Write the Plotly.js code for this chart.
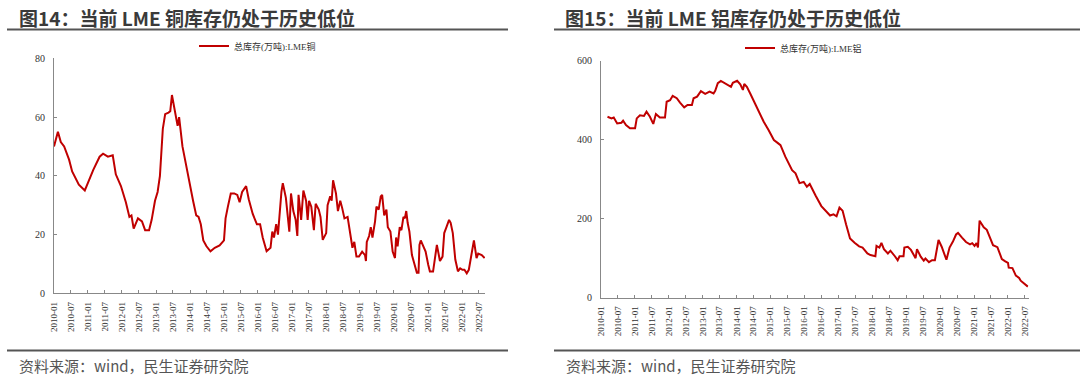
<!DOCTYPE html>
<html>
<head>
<meta charset="utf-8">
<script src="https://cdn.plot.ly/plotly-3.0.1.min.js"></script>
<style>html,body{margin:0;padding:0;background:#fff;}#chart{width:1080px;height:378px;}</style>
</head>
<body>
<div id="chart"></div>
<script>
// ---- Data ----
const tickLabels = ["2010-01","2010-07","2011-01","2011-07","2012-01","2012-07","2013-01","2013-07","2014-01","2014-07","2015-01","2015-07","2016-01","2016-07","2017-01","2017-07","2018-01","2018-07","2019-01","2019-07","2020-01","2020-07","2021-01","2021-07","2022-01","2022-07"];

const cuDates = ["2010-01-01","2010-02-12","2010-03-15","2010-04-20","2010-06-12","2010-07-15","2010-09-25","2010-11-28","2011-01-06","2011-02-27","2011-05-06","2011-06-12","2011-08-03","2011-09-24","2011-10-27","2011-12-21","2012-02-12","2012-03-21","2012-04-12","2012-05-06","2012-06-21","2012-08-03","2012-09-06","2012-10-18","2012-11-15","2012-12-21","2013-01-18","2013-02-12","2013-03-15","2013-04-09","2013-05-15","2013-06-03","2013-06-21","2013-07-21","2013-08-21","2013-09-06","2013-10-12","2013-11-15","2013-12-21","2014-02-03","2014-03-09","2014-04-03","2014-04-27","2014-05-24","2014-06-27","2014-08-09","2014-09-24","2014-11-15","2015-01-01","2015-01-18","2015-02-12","2015-03-15","2015-04-21","2015-05-24","2015-06-18","2015-07-15","2015-08-27","2015-09-24","2015-11-06","2015-12-21","2016-01-24","2016-02-21","2016-04-03","2016-05-15","2016-06-03","2016-06-21","2016-07-15","2016-08-03","2016-09-09","2016-09-24","2016-10-27","2016-11-24","2016-12-03","2016-12-21","2017-01-15","2017-02-09","2017-02-27","2017-03-12","2017-04-09","2017-05-03","2017-06-01","2017-06-18","2017-07-03","2017-07-27","2017-08-24","2017-09-12","2017-10-15","2017-11-03","2017-11-27","2018-01-03","2018-01-18","2018-02-15","2018-03-03","2018-03-18","2018-04-18","2018-05-09","2018-06-03","2018-06-24","2018-07-18","2018-08-21","2018-09-15","2018-10-12","2018-11-01","2018-11-24","2018-12-21","2019-01-24","2019-02-24","2019-03-06","2019-03-15","2019-04-09","2019-04-27","2019-05-15","2019-06-12","2019-06-27","2019-07-21","2019-08-12","2019-08-27","2019-09-18","2019-10-12","2019-10-27","2019-11-24","2019-12-18","2020-01-12","2020-01-24","2020-02-09","2020-03-03","2020-03-21","2020-04-12","2020-04-27","2020-05-12","2020-05-27","2020-06-15","2020-07-12","2020-08-06","2020-09-03","2020-09-21","2020-10-01","2020-10-15","2020-11-12","2020-12-06","2021-01-03","2021-01-21","2021-02-24","2021-03-12","2021-04-06","2021-04-24","2021-05-09","2021-06-06","2021-06-24","2021-07-18","2021-08-15","2021-09-01","2021-09-24","2021-10-21","2021-11-18","2021-12-12","2022-01-06","2022-01-27","2022-02-21","2022-03-15","2022-04-12","2022-05-09","2022-06-06","2022-06-24","2022-08-01","2022-09-01"];
const cuValues = [50,55,51.5,50,45.5,41.5,37,35,38,42,46.5,47.5,46.5,47,40.5,36.5,31,26,26.5,22,25.5,24.5,21.5,21.5,25,31.5,34.5,40,56,61,61.5,62,67.5,62.5,57,60,50,44.5,38,31.5,26.5,26,23.5,18,16,14.3,15.5,16.3,18,25.5,29.5,34,34,33.5,31,34.5,36.5,32,27,23.5,23.5,19,14.3,15.5,21,19,23.5,20,34.5,37.5,32.5,23.5,21,34,28,25,19.5,33.5,25,35,31.5,25,31.5,29.5,21.5,30.5,28.5,26,18.2,20.5,30,33,31.5,38.5,34,28,31.5,29,25.5,26,21.5,15.5,17.5,12.5,12.5,14.2,13,11,17.5,19.5,22.5,19,24.5,29.5,28.5,33,33.5,26.5,28.5,22.5,21,14.2,12,19,16,22.5,21.5,26,25.5,28,24,21,13,10,7,7,16.5,18,16,14.2,9.7,7.4,7.4,11.5,16.5,13.5,11,12.5,20.5,22.5,25,24,20.5,11.5,7.5,8.5,8,8,6.8,8,13,18,12,13.5,13,12];

const alDates = ["2010-03-12","2010-04-24","2010-05-18","2010-06-24","2010-08-09","2010-08-27","2010-09-27","2010-11-09","2011-01-03","2011-01-21","2011-02-24","2011-04-09","2011-05-06","2011-06-12","2011-07-18","2011-08-15","2011-09-27","2011-11-21","2011-12-09","2012-01-15","2012-02-12","2012-03-27","2012-05-01","2012-06-15","2012-07-21","2012-09-06","2012-09-24","2012-11-01","2012-12-12","2013-01-27","2013-03-15","2013-04-27","2013-05-15","2013-06-12","2013-07-15","2013-09-01","2013-10-06","2013-11-01","2013-11-21","2014-01-06","2014-02-09","2014-03-09","2014-03-24","2014-04-21","2014-05-27","2014-07-09","2014-08-27","2014-10-18","2014-12-12","2015-02-06","2015-03-18","2015-04-18","2015-06-09","2015-08-21","2015-09-27","2015-11-09","2015-12-24","2016-01-27","2016-02-27","2016-04-12","2016-05-01","2016-07-01","2016-09-01","2016-10-03","2016-11-09","2016-12-12","2017-01-12","2017-02-15","2017-03-24","2017-05-06","2017-06-24","2017-08-12","2017-09-18","2017-11-09","2017-12-12","2018-02-03","2018-02-15","2018-03-18","2018-04-09","2018-05-06","2018-06-18","2018-07-15","2018-09-01","2018-10-01","2018-10-21","2018-12-03","2018-12-12","2019-01-18","2019-02-21","2019-03-27","2019-04-12","2019-04-27","2019-06-06","2019-07-09","2019-07-27","2019-09-03","2019-10-06","2019-11-06","2019-11-27","2019-12-15","2020-01-18","2020-02-24","2020-03-09","2020-04-12","2020-05-18","2020-06-21","2020-07-12","2020-08-24","2020-10-06","2020-11-18","2020-12-12","2021-01-06","2021-01-27","2021-02-12","2021-03-01","2021-04-15","2021-05-18","2021-06-21","2021-07-24","2021-09-09","2021-10-27","2021-12-03","2022-01-01","2022-01-09","2022-02-18","2022-03-27","2022-05-01","2022-05-18","2022-06-15","2022-07-12","2022-08-03"];
const alValues = [458,454,456,441,443,448,437,429,429,454,462,460,471,458,440,465,456,456,496,500,511,505,494,482,488,488,505,509,523,516,522,517,524,543,549,543,538,534,544,549,540,526,541,534,517,496,475,446,424,399,392,386,357,323,315,290,293,281,288,264,258,232,217,208,211,206,228,220,186,150,139,130,127,112,108,105,131,127,139,123,112,119,105,95,105,105,127,129,121,108,100,123,104,94,99,90,95,95,125,146,129,105,96,127,142,160,164,152,141,135,138,131,138,127,195,178,172,152,133,128,98,92,88,76,75,56,50,43,38,32,28];

// ---- Layout helpers (pixel -> paper) ----
const W = 1080, H = 378;
const px = v => v / W;
const py = v => 1 - v / H;

const lineColor = '#c00000';
const tickFont = {family: 'Liberation Serif, Times New Roman, serif', size: 9, color: '#333'};
const yFont = {family: 'Liberation Serif, Times New Roman, serif', size: 10, color: '#333'};
const legFont = {family: 'Liberation Serif, Noto Sans CJK SC, serif', size: 9, color: '#333'};
const tickVals = tickLabels.map(t => t + '-01');

const xCommon = {
  type: 'date', tickmode: 'array', tickvals: tickVals, ticktext: tickLabels,
  tickangle: -90, tickfont: tickFont, showline: true, linecolor: '#888', linewidth: 1,
  ticks: 'inside', ticklen: 3, tickcolor: '#888', showgrid: false, zeroline: false,
  ticklabelstandoff: 4, fixedrange: true
};
const yCommon = {
  showline: true, linecolor: '#888', linewidth: 1, ticks: 'inside', ticklen: 3,
  tickcolor: '#888', showgrid: false, zeroline: false, tickfont: yFont,
  ticklabelstandoff: 6, fixedrange: true
};

const traces = [
  {x: cuDates, y: cuValues, type: 'scatter', mode: 'lines', name: '总库存(万吨):LME铜',
   line: {color: lineColor, width: 2}, xaxis: 'x', yaxis: 'y', legend: 'legend'},
  {x: alDates, y: alValues, type: 'scatter', mode: 'lines', name: '总库存(万吨):LME铝',
   line: {color: lineColor, width: 2}, xaxis: 'x2', yaxis: 'y2', legend: 'legend2'}
];

const titleFont = {family: 'Noto Sans CJK SC, sans-serif', size: 19, color: '#3a3a3a'};
const srcFont = {family: 'Noto Sans CJK SC, sans-serif', size: 15, color: '#555'};

const layout = {
  width: W, height: H, margin: {l: 0, r: 0, t: 0, b: 0},
  paper_bgcolor: '#fff', plot_bgcolor: '#fff', showlegend: true,
  xaxis: Object.assign({}, xCommon, {domain: [px(54), px(485)], range: ['2010-01-01', '2022-09-05'], anchor: 'y'}),
  yaxis: Object.assign({}, yCommon, {domain: [py(293.3), py(58.3)], range: [0, 80], dtick: 20, anchor: 'x'}),
  xaxis2: Object.assign({}, xCommon, {domain: [px(601), px(1028.5)], range: ['2010-01-01', '2022-08-10'], anchor: 'y2'}),
  yaxis2: Object.assign({}, yCommon, {domain: [py(297.7), py(60.7)], range: [0, 600], dtick: 200, anchor: 'x2'}),
  legend: {x: px(194), y: py(46), xanchor: 'left', yanchor: 'middle', font: legFont, bgcolor: 'rgba(0,0,0,0)', itemwidth: 30},
  legend2: {x: px(740), y: py(48), xanchor: 'left', yanchor: 'middle', font: legFont, bgcolor: 'rgba(0,0,0,0)', itemwidth: 30},
  annotations: [
    {text: '<b>图14：当前 LME 铜库存仍处于历史低位</b>', xref: 'paper', yref: 'paper', x: px(17), y: py(17), xanchor: 'left', yanchor: 'middle', showarrow: false, font: titleFont},
    {text: '<b>图15：当前 LME 铝库存仍处于历史低位</b>', xref: 'paper', yref: 'paper', x: px(563), y: py(17), xanchor: 'left', yanchor: 'middle', showarrow: false, font: titleFont},
    {text: '资料来源：wind，民生证券研究院', xref: 'paper', yref: 'paper', x: px(17), y: py(365), xanchor: 'left', yanchor: 'middle', showarrow: false, font: srcFont},
    {text: '资料来源：wind，民生证券研究院', xref: 'paper', yref: 'paper', x: px(564), y: py(365), xanchor: 'left', yanchor: 'middle', showarrow: false, font: srcFont}
  ],
  shapes: [
    {type: 'line', xref: 'paper', yref: 'paper', x0: px(7), x1: px(508), y0: py(29.5), y1: py(29.5), line: {color: '#555', width: 2}},
    {type: 'line', xref: 'paper', yref: 'paper', x0: px(554), x1: px(1080), y0: py(29.5), y1: py(29.5), line: {color: '#555', width: 2}},
    {type: 'line', xref: 'paper', yref: 'paper', x0: px(7), x1: px(508), y0: py(350.5), y1: py(350.5), line: {color: '#555', width: 2}},
    {type: 'line', xref: 'paper', yref: 'paper', x0: px(554), x1: px(1080), y0: py(350.5), y1: py(350.5), line: {color: '#555', width: 2}}
  ]
};

Plotly.newPlot('chart', traces, layout, {displayModeBar: false, staticPlot: true});
</script>
</body>
</html>
